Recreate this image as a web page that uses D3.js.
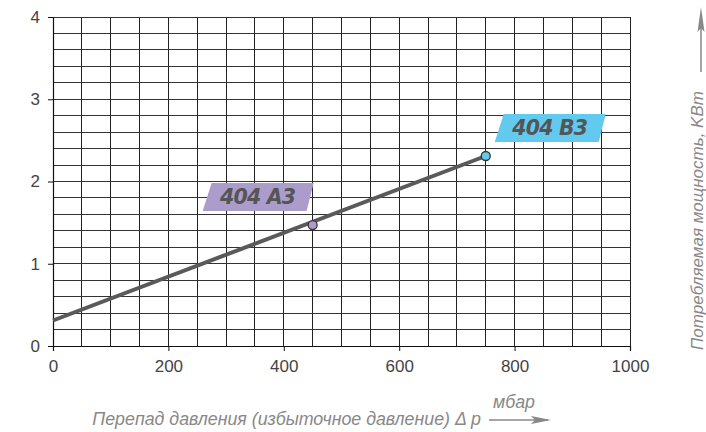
<!DOCTYPE html>
<html>
<head>
<meta charset="utf-8">
<script src="https://cdn.jsdelivr.net/npm/d3@7"></script>
<style>
  body { margin: 0; background: #fff; }
  svg { display: block; font-family: "Liberation Sans", Arial, sans-serif; }
</style>
</head>
<body>
<svg id="chart" width="706" height="432"></svg>
<script>
// data
const xTicks = [0, 200, 400, 600, 800, 1000];
const yTicks = [0, 1, 2, 3, 4];
const lineX = [0, 750];
const lineY = [0.31, 2.31];
const pointNames = ["404 A3", "404 B3"];
const pointX = [450, 750];
const pointY = [1.47, 2.31];
const pointColors = ["#ab9ccb", "#62c9ef"];
const xTitle = "Перепад давления (избыточное давление) Δ p";
const xUnit = "мбар";
const yTitle = "Потребляемая мощность,  KBт";

const svg = d3.select("#chart");
const m = {left: 53, right: 76, top: 17, bottom: 86};
const W = 706, H = 432;

const x = d3.scaleLinear().domain([0, 1000]).range([m.left, W - m.right]);
const y = d3.scaleLinear().domain([0, 4]).range([H - m.bottom, m.top]);

// grid
const grid = svg.append("g").attr("shape-rendering", "crispEdges");
grid.selectAll(".v").data(d3.range(50, 1001, 50)).join("line")
    .attr("x1", d => x(d)).attr("x2", d => x(d))
    .attr("y1", y(0)).attr("y2", y(4))
    .attr("stroke", "#222").attr("stroke-width", 1);
grid.selectAll(".h").data(d3.range(1, 21).map(i => i * 0.2)).join("line")
    .attr("x1", x(0)).attr("x2", x(1000))
    .attr("y1", d => y(d)).attr("y2", d => y(d))
    .attr("stroke", "#333").attr("stroke-width", 1);

// axes
const xAxis = svg.append("g")
    .attr("transform", `translate(0,${y(0)})`)
    .call(d3.axisBottom(x).tickValues(xTicks).tickFormat(d3.format("d")).tickSize(5).tickPadding(6));
const yAxis = svg.append("g")
    .attr("transform", `translate(${x(0)},0)`)
    .call(d3.axisLeft(y).tickValues(yTicks).tickFormat(d3.format("d")).tickSize(5).tickPadding(6));
[xAxis, yAxis].forEach(a => {
  a.select(".domain").attr("stroke", "#111").attr("stroke-width", 1.2);
  a.selectAll(".tick line").attr("stroke", "#111");
  a.selectAll(".tick text").attr("fill", "#444")
    .style("font-size", "17px").style("font-family", "Liberation Sans, Arial, sans-serif");
});
xAxis.selectAll(".tick text").attr("dy", "0.9em");
yAxis.selectAll(".tick text").attr("dx", "-2");

// line
const lineData = lineX.map((d, i) => [d, lineY[i]]);
svg.append("path")
    .datum(lineData)
    .attr("d", d3.line().x(d => x(d[0])).y(d => y(d[1])))
    .attr("stroke", "#5a5a5a").attr("stroke-width", 4).attr("fill", "none");

// labels
const labelOffset = [[-54, -28], [65, -28]];
const pts = pointNames.map((n, i) => ({name: n, x: pointX[i], y: pointY[i], c: pointColors[i], off: labelOffset[i]}));
const lab = svg.selectAll(".lab").data(pts).join("g")
    .attr("transform", d => `translate(${x(d.x) + d.off[0]},${y(d.y) + d.off[1]})`);
lab.append("path")
    .attr("d", "M-47,-14 L55,-14 L48,14 L-56,14 Z")
    .attr("fill", d => d.c);
lab.append("text")
    .attr("text-anchor", "middle").attr("dy", "0.36em").attr("x", -1)
    .attr("fill", "#555").style("font-size", "20.5px")
    .style("font-family", "DejaVu Sans, sans-serif")
    .style("font-weight", "bold").style("font-style", "italic")
    .style("letter-spacing", "-0.8px")
    .text(d => d.name);

// points
svg.selectAll(".pt").data(pts).join("circle")
    .attr("cx", d => x(d.x)).attr("cy", d => y(d.y)).attr("r", 4.5)
    .attr("fill", d => d.c).attr("stroke", "#333").attr("stroke-width", 1.3);

// titles
svg.append("text")
    .attr("x", 481).attr("y", 425).attr("text-anchor", "end")
    .attr("fill", "#888").style("font-size", "17.8px").style("font-style", "italic")
    .text(xTitle);
svg.append("text")
    .attr("x", 514).attr("y", 408).attr("text-anchor", "middle")
    .attr("fill", "#888").style("font-size", "17.8px").style("font-style", "italic")
    .text(xUnit);
svg.append("line")
    .attr("x1", 489).attr("x2", 548).attr("y1", 420).attr("y2", 420)
    .attr("stroke", "#888").attr("stroke-width", 1.5);
svg.append("path").attr("d", "M531,416 L551,420 L531,424 L535,420 Z").attr("fill", "#888");

svg.append("text")
    .attr("transform", "translate(703,350) rotate(-90)")
    .attr("text-anchor", "start")
    .attr("fill", "#888").style("font-size", "17px").style("font-style", "italic")
    .text(yTitle);
svg.append("line")
    .attr("x1", 701).attr("x2", 701).attr("y1", 72).attr("y2", 14)
    .attr("stroke", "#888").attr("stroke-width", 1.5);
svg.append("path").attr("d", "M697.5,32 L701,7 L704.5,32 L701,28 Z").attr("fill", "#888");
</script>
</body>
</html>
